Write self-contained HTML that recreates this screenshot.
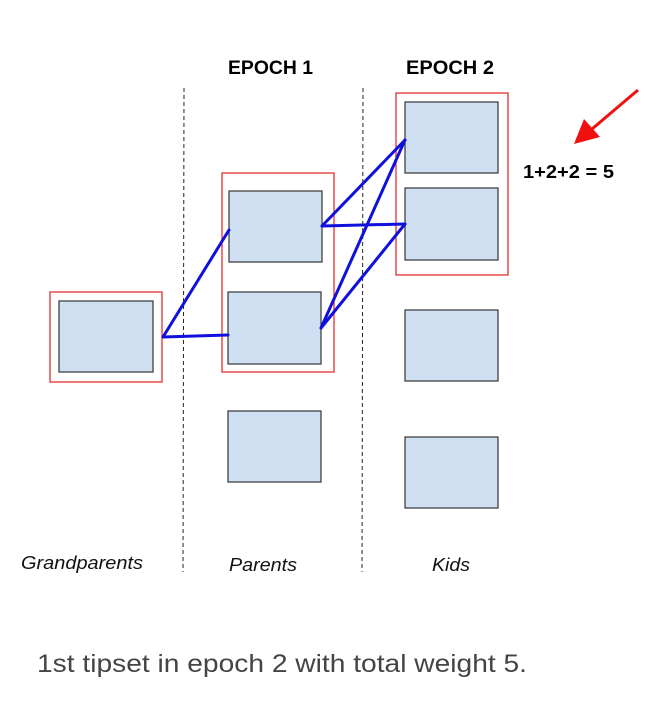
<!DOCTYPE html>
<html><head><style>html,body{margin:0;padding:0;background:#fff;}svg{display:block}</style></head>
<body>
<svg width="660" height="704" xmlns="http://www.w3.org/2000/svg" font-family="Liberation Sans, Arial, sans-serif">
<g stroke="#222" stroke-width="1" stroke-dasharray="4,3">
<line x1="184" y1="88" x2="183" y2="572"/>
<line x1="363" y1="88" x2="362" y2="572"/>
</g>
<text x="228" y="74" font-size="19" font-weight="bold" textLength="85" lengthAdjust="spacingAndGlyphs">EPOCH 1</text>
<text x="406" y="74" font-size="19" font-weight="bold" textLength="88" lengthAdjust="spacingAndGlyphs">EPOCH 2</text>
<g fill="none" stroke="#e53030" stroke-width="1.3">
<rect x="50" y="292" width="112" height="90"/>
<rect x="222" y="173" width="112" height="199"/>
<rect x="396" y="93" width="112" height="182"/>
</g>
<g fill="#cfe0f2" stroke="#333" stroke-width="1.2">
<rect x="59" y="301" width="94" height="71"/>
<rect x="229" y="191" width="93" height="71"/>
<rect x="228" y="292" width="93" height="72"/>
<rect x="228" y="411" width="93" height="71"/>
<rect x="405" y="102" width="93" height="71"/>
<rect x="405" y="188" width="93" height="72"/>
<rect x="405" y="310" width="93" height="71"/>
<rect x="405" y="437" width="93" height="71"/>
</g>
<g stroke="#1010dd" stroke-width="3" fill="none" stroke-linecap="round">
<line x1="163" y1="337" x2="229" y2="230"/>
<line x1="163" y1="337" x2="228" y2="335"/>
<line x1="322" y1="226" x2="405" y2="140"/>
<line x1="322" y1="226" x2="405" y2="224"/>
<line x1="321" y1="328" x2="405" y2="140"/>
<line x1="321" y1="328" x2="405" y2="224"/>
</g>
<line x1="638" y1="90" x2="592" y2="129" stroke="#f01010" stroke-width="3"/>
<polygon points="574,144 584,119 600,137" fill="#f01010"/>
<text x="523" y="178" font-size="18" font-weight="bold" textLength="91" lengthAdjust="spacingAndGlyphs">1+2+2 = 5</text>
<g font-size="18" font-style="italic" fill="#111">
<text x="21" y="569" textLength="122" lengthAdjust="spacingAndGlyphs">Grandparents</text>
<text x="229" y="571" textLength="68" lengthAdjust="spacingAndGlyphs">Parents</text>
<text x="432" y="571" textLength="38" lengthAdjust="spacingAndGlyphs">Kids</text>
</g>
<text x="37" y="672" font-size="25" fill="#444" textLength="490" lengthAdjust="spacingAndGlyphs">1st tipset in epoch 2 with total weight 5.</text>
</svg>
</body></html>
